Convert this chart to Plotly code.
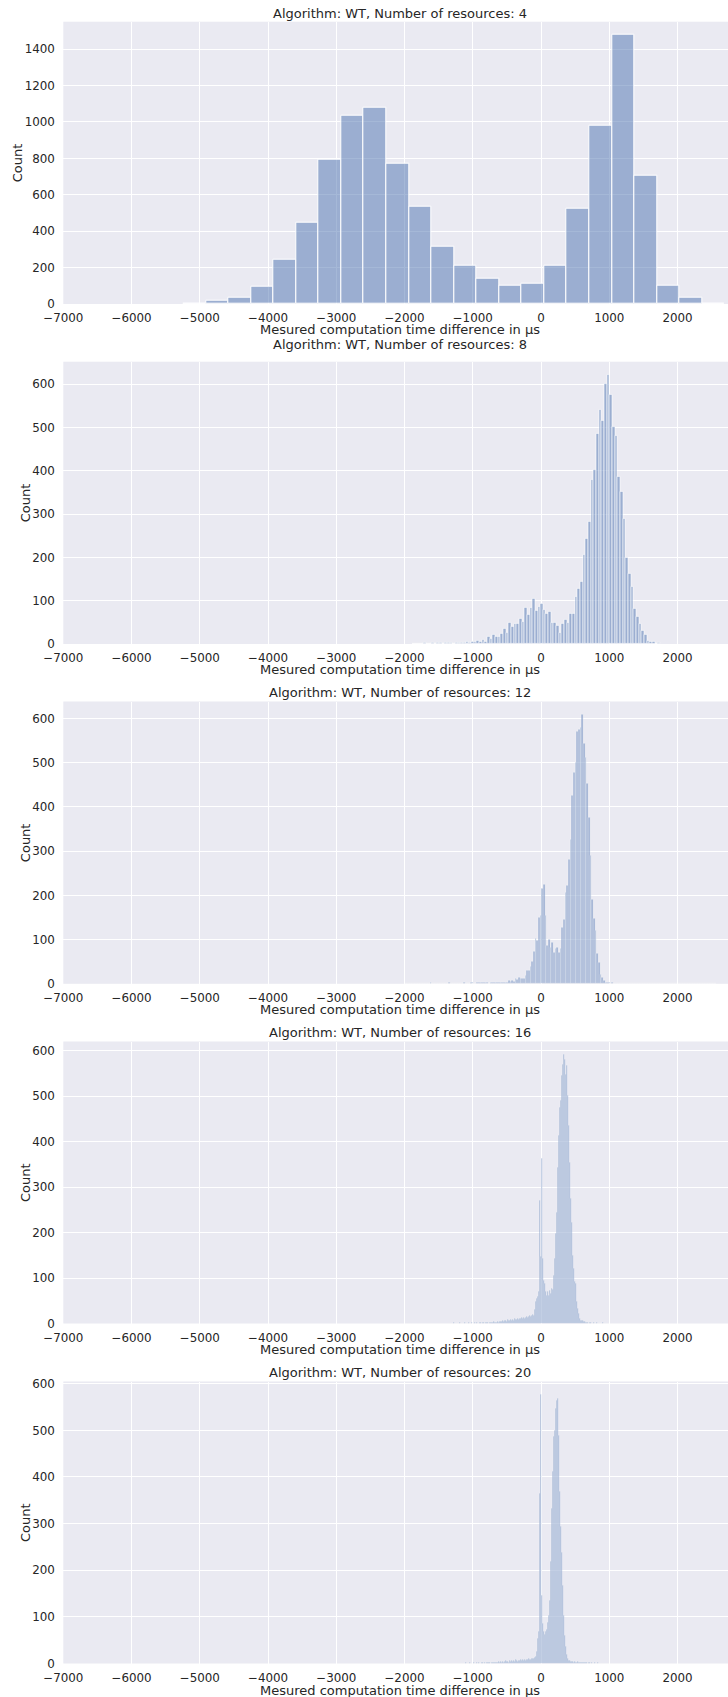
import plotly.graph_objects as go

W, H = 728, 1697

# ---------------- data ----------------
resources = [4, 8, 12, 16, 20]

# histogram bins (start of first bin, bin width) in µs
bin_start = [-5240.0, -1880.0, -1991.0, -2004.0, -1999.0]
bin_width = [330.4, 39.0, 24.4, 14.63, 14.63]

counts_4 = [3, 17, 35, 95, 242, 447, 792, 1034, 1078, 770, 534, 315, 210, 141,
            101, 112, 209, 523, 979, 1477, 705, 102, 35, 4]

counts_8 = [0, 0, 0, 0, 2, 0, 1, 2, 0, 3, 2, 1, 3, 2, 4, 1, 4, 2, 4, 3, 5, 2, 6,
            6, 8, 5, 10, 5, 16, 13, 21, 17, 17, 24, 35, 25, 50, 41, 46, 46, 58, 52,
            85, 67, 83, 104, 77, 87, 93, 79, 69, 75, 50,
            50, 42, 25, 48, 56, 49, 69, 69, 110, 127, 144, 206, 243, 283, 380, 403,
            486, 542, 515, 602, 621, 576, 503, 480, 386, 351, 289, 200, 162, 133,
            81, 64, 46, 31, 21, 8, 6, 6, 0, 2]

counts_12_left = [0, 0, 1, 0, 0, 0, 0, 1, 0, 0, 0, 0, 0, 0, 0, 2,
                  0, 0, 0, 0, 0, 1, 0, 0, 0, 1, 2, 0, 1, 0, 0,
                  0, 1, 0, 1, 2, 0, 1, 1, 2, 3, 0, 1, 2, 2, 3,
                  2, 3, 2, 3, 1, 3, 2, 4, 2, 3, 3]
counts_12_main = [3, 2, 3, 2, 3, 7, 6, 7, 5, 13,
                  10, 15, 13, 11, 13, 19, 29, 30, 39, 50,
                  73, 102, 98, 151, 154, 216, 224, 154, 87, 100,
                  83, 94, 70, 79, 81, 70, 79, 128, 145, 206,
                  222, 281, 326, 426, 478, 501, 571, 576, 580, 608,
                  543, 512, 454, 377, 290, 191, 147, 121, 68, 49,
                  20, 15, 8, 4, 2, 2, 1, 2, 1, 1]
counts_12_right = [0, 1, 0, 0, 1, 0, 0, 0, 1, 0, 0, 0, 0, 1, 0, 0, 0, 0, 0, 1,
                   0, 0, 0, 0, 1, 0, 0, 0, 0, 0, 0, 1, 0, 0, 0, 0, 0, 0, 1, 0,
                   0, 0, 0, 0, 0, 0, 0, 1, 0, 0, 0, 0, 0, 0, 0, 0, 0, 0, 1, 0]

counts_16_left = [0, 0, 1, 0, 0, 0, 1, 0, 0, 0, 0, 1, 0, 0, 0, 0, 0, 1, 0, 0,
                  1, 0, 0, 0, 1, 0, 0, 0, 1, 0, 0, 1, 0, 1, 0, 0, 1, 0, 0, 1,
                  0, 1, 1, 0, 0, 1, 0, 1, 0, 2, 1, 0, 1, 1, 0, 2, 1, 0, 1, 1,
                  2, 1, 1, 0, 2, 1, 1, 2, 1, 0, 2, 1, 2, 1, 1, 2, 3, 1, 2, 2,
                  1, 3, 2, 2, 1, 3, 2, 3, 2, 4, 3, 2, 3, 4, 3, 4,
                  5, 4, 6, 5, 7, 6, 5, 8, 6, 7, 9, 7, 8, 6, 10, 8, 9, 11, 9, 12,
                  10, 13, 11, 14, 12, 13, 16, 14, 15, 17, 16, 18, 20]
counts_16_main = [18, 30, 48, 55, 60, 70, 270, 147, 363, 144, 95, 88, 70, 62, 71,
                  62, 73, 66, 77, 75, 106, 143, 198, 245, 344, 414, 476, 491, 546,
                  571, 591, 582, 547, 568, 502, 436, 355, 275, 223, 150, 121, 92,
                  88, 48, 33, 22, 12, 7, 7, 6, 4, 4, 3, 3]
counts_16_right = [2, 1, 2, 2, 1, 1, 2, 1, 1, 2, 1, 1, 0, 1, 1, 2, 1, 0, 1, 1,
                   0, 1, 1, 0, 1, 0, 0, 1, 0, 0, 0, 1, 0, 0, 0, 1, 0, 0, 0, 0,
                   1, 0, 0, 0, 0, 1, 0, 0, 0, 0, 0, 0, 1, 0, 0, 0, 0, 0, 1, 0,
                   0, 0, 0, 0, 0, 0, 1, 0, 0, 0, 0, 0, 0, 0, 1, 0, 0, 0, 0, 0]

counts_20_left = [0, 0, 0, 1, 0, 0, 0, 0, 1, 0, 0, 0, 0, 1, 0, 0, 0, 0, 0, 1,
                  0, 0, 1, 0, 0, 0, 1, 0, 0, 0, 1, 0, 0, 1, 0, 0, 0, 1, 0, 1,
                  0, 0, 1, 0, 1, 0, 1, 0, 0, 1, 1, 0, 1, 0, 1, 1, 0, 1, 1, 0,
                  1, 2, 0, 1, 1, 2, 1, 1, 0, 2, 1, 1, 2, 1, 2, 1, 1, 2, 2, 1,
                  2, 1, 3, 2, 2, 3, 1, 2, 3, 2, 3, 2, 3, 2, 4, 3,
                  4, 3, 5, 3, 4, 6, 4, 5, 3, 6, 5, 7, 4, 6, 5, 8, 6, 5, 7, 6,
                  8, 7, 9, 6, 8, 7, 9, 8, 10, 9, 8, 10, 11]
counts_20_main = [10, 12, 14, 25, 54, 68, 364, 576, 146, 86, 68, 62, 69, 74, 89,
                  104, 136, 218, 332, 411, 486, 500, 546, 564, 568, 489, 368, 293,
                  239, 168, 104, 61, 36, 19, 11, 7, 7]
counts_20_right = [5, 4, 4, 3, 4, 3, 3, 4, 2, 3, 3, 2, 3, 2, 2, 3, 2, 1, 2, 2,
                   1, 2, 1, 1, 2, 1, 1, 2, 1, 1, 1, 0, 1, 1, 0, 1, 1, 0, 1,
                   0, 0, 1, 0, 0, 0, 1, 0, 0, 0, 0, 0, 1, 0, 0, 0, 0, 1, 0, 0,
                   0, 0, 0, 1, 0, 0, 0, 0, 0, 1]

counts_12 = counts_12_left + counts_12_main + counts_12_right
counts_16 = counts_16_left + counts_16_main + counts_16_right
counts_20 = counts_20_left + counts_20_main + counts_20_right
all_counts = [counts_4, counts_8, counts_12, counts_16, counts_20]

x_range = [-7000, 2740]
x_ticks = [-7000, -6000, -5000, -4000, -3000, -2000, -1000, 0, 1000, 2000]
x_tick_text = ["\u22127000", "\u22126000", "\u22125000", "\u22124000", "\u22123000",
               "\u22122000", "\u22121000", "0", "1000", "2000"]
y_ticks_4 = [0, 200, 400, 600, 800, 1000, 1200, 1400]
y_ticks_other = [0, 100, 200, 300, 400, 500, 600]
x_label = "Mesured computation time difference in \u00b5s"
y_label = "Count"

# ---------------- style / layout ----------------
FONT = "DejaVu Sans"
TXT = "#262626"
BG = "#EAEAF2"
BAR = "rgba(76,114,176,0.5)"
edge_w = [1.0, 0.6, 0.35, 0.25, 0.25]

PL, PR = 63.3, 728.0
tops = [21.7, 361.7, 701.5, 1041.5, 1381.5]
bottoms = [304.0, 644.0, 983.8, 1323.5, 1663.5]
title_y = [13.3, 344.3, 692.7, 1032.7, 1372.7]
xlabel_y = [329.3, 669.3, 1009.3, 1349.3, 1690.0]
count_x = [17.5, 25.5, 25.5, 25.5, 25.5]
center_x = 400.0


def px(x):
    return x / W


def py(y):
    return 1 - y / H


fig = go.Figure()
annotations = []
layout = dict(
    width=W, height=H,
    margin=dict(l=0, r=0, t=0, b=0),
    paper_bgcolor="white", plot_bgcolor=BG,
    showlegend=False, bargap=0, barmode="overlay",
    font=dict(family=FONT, color=TXT, size=12),
)

for i, (res, counts) in enumerate(zip(resources, all_counts)):
    n = i + 1
    xa = "x" if n == 1 else f"x{n}"
    ya = "y" if n == 1 else f"y{n}"
    centers = [bin_start[i] + bin_width[i] * (k + 0.5) for k in range(len(counts))]
    fig.add_trace(go.Bar(
        x=centers, y=counts, width=bin_width[i],
        marker=dict(color=BAR, line=dict(color="white", width=edge_w[i])),
        xaxis=xa, yaxis=ya, hoverinfo="skip",
    ))
    ymax = max(counts) * 1.05
    yt = y_ticks_4 if i == 0 else y_ticks_other
    layout[f"xaxis{n}"] = dict(
        domain=[px(PL), px(PR)], range=x_range, anchor=ya,
        tickmode="array", tickvals=x_ticks, ticktext=x_tick_text,
        showgrid=True, gridcolor="white", gridwidth=1, zeroline=False,
        showline=False, ticks="outside", ticklen=3, tickcolor="rgba(0,0,0,0)",
        tickfont=dict(family=FONT, size=11.9, color=TXT), automargin=False,
    )
    layout[f"yaxis{n}"] = dict(
        domain=[py(bottoms[i]), py(tops[i])], range=[0, ymax], anchor=xa,
        tickmode="array", tickvals=yt,
        showgrid=True, gridcolor="white", gridwidth=1, zeroline=False,
        showline=False, ticks="outside", ticklen=5, tickcolor="rgba(0,0,0,0)",
        tickfont=dict(family=FONT, size=11.9, color=TXT), automargin=False,
    )
    annotations.append(dict(
        text=f"Algorithm: WT, Number of resources: {res}",
        x=px(center_x), y=py(title_y[i]), xref="paper", yref="paper",
        xanchor="center", yanchor="middle", showarrow=False,
        font=dict(family=FONT, size=13, color=TXT),
    ))
    annotations.append(dict(
        text=x_label, x=px(center_x), y=py(xlabel_y[i]), xref="paper", yref="paper",
        xanchor="center", yanchor="middle", showarrow=False,
        font=dict(family=FONT, size=13, color=TXT),
    ))
    annotations.append(dict(
        text=y_label, x=px(count_x[i]), y=py((tops[i] + bottoms[i]) / 2),
        xref="paper", yref="paper", xanchor="center", yanchor="middle",
        textangle=-90, showarrow=False,
        font=dict(family=FONT, size=13, color=TXT),
    ))

layout["annotations"] = annotations
fig.update_layout(**layout)
fig.write_html("out.html")
